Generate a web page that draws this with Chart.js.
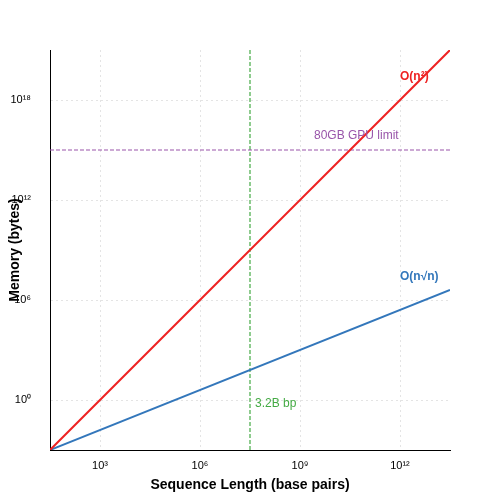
<!DOCTYPE html>
<html><head><script src="https://cdn.jsdelivr.net/npm/chart.js@4"></script>
<style>body{margin:0;background:#fff}#w{width:500px;height:500px}</style></head>
<body><div id="w"><canvas id="c"></canvas></div>
<script>
const xTicks=[1e3,1e6,1e9,1e12];
const xTickLabels=["10³","10⁶","10⁹","10¹²"];
const yTicks=[1,1e6,1e12,1e18];
const yTickLabels=["10⁰","10⁶","10¹²","10¹⁸"];
const nRange=[Math.pow(10,1.5),Math.pow(10,13.5)];
const quadMem=[1e-3,1e21];
const nsqrtMem=[1e-3,Math.pow(10,6.6)];
const gpuLimit=1e15;
const genomeLen=Math.pow(10,7.5);
const yRange=[1e-3,1e21];
const font="'Liberation Sans', Arial, sans-serif";
const labelPlugin={id:'lab',afterDraw(c){const ctx=c.ctx,x=c.scales.x,y=c.scales.y;ctx.save();
 ctx.textBaseline='middle';
 ctx.font="bold 12px "+font;ctx.fillStyle='#ee2222';ctx.fillText('O(n²)',x.getPixelForValue(1e12),y.getPixelForValue(Math.pow(10,19.4)));
 ctx.fillStyle='#3377bb';ctx.fillText('O(n√n)',x.getPixelForValue(1e12),y.getPixelForValue(Math.pow(10,7.4)));
 ctx.font="12px "+font;ctx.fillStyle='#9955aa';ctx.fillText('80GB GPU limit',x.getPixelForValue(Math.pow(10,9.42)),y.getPixelForValue(Math.pow(10,15.85)));
 ctx.fillStyle='#44aa44';ctx.fillText('3.2B bp',x.getPixelForValue(Math.pow(10,7.65)),y.getPixelForValue(Math.pow(10,-0.2)));
 ctx.fillStyle='#000';ctx.font="bold 14px "+font;ctx.textAlign='center';
 ctx.fillText('Sequence Length (base pairs)',250,485);
 ctx.translate(15,250);ctx.rotate(-Math.PI/2);ctx.fillText('Memory (bytes)',0,0);
 ctx.restore();}};
const grid={color:'#e4e4e4',lineWidth:1,drawTicks:false};
new Chart(document.getElementById('c'),{type:'scatter',
 data:{datasets:[
  {data:[{x:nRange[0],y:quadMem[0]},{x:nRange[1],y:quadMem[1]}],showLine:true,borderColor:'#ee2222',borderWidth:2,pointRadius:0},
  {data:[{x:nRange[0],y:nsqrtMem[0]},{x:nRange[1],y:nsqrtMem[1]}],showLine:true,borderColor:'#3377bb',borderWidth:2,pointRadius:0},
  {data:[{x:nRange[0],y:gpuLimit},{x:nRange[1],y:gpuLimit}],showLine:true,borderColor:'#9955aa',borderWidth:1.2,borderDash:[4,2],pointRadius:0},
  {data:[{x:genomeLen,y:yRange[0]},{x:genomeLen,y:yRange[1]}],showLine:true,borderColor:'#44aa44',borderWidth:1.2,borderDash:[4,2],pointRadius:0}
 ]},
 options:{responsive:true,maintainAspectRatio:false,animation:false,
  layout:{padding:{left:0,top:50,right:50,bottom:0}},
  plugins:{legend:{display:false},tooltip:{enabled:false}},
  scales:{
   x:{type:'logarithmic',min:nRange[0],max:nRange[1],
    afterBuildTicks(s){s.ticks=xTicks.map(v=>({value:v}));},
    afterFit(s){s.height=50;},
    ticks:{padding:9,autoSkip:false,maxRotation:0,color:'#000',font:{family:font,size:11},callback:(v)=>xTickLabels[xTicks.indexOf(v)]},
    grid:grid,border:{color:'#000',width:1,dash:[2,3]}},
   y:{type:'logarithmic',min:yRange[0],max:yRange[1],
    afterBuildTicks(s){s.ticks=yTicks.map(v=>({value:v}));},
    afterFit(s){s.width=50;},
    ticks:{padding:19,autoSkip:false,color:'#000',font:{family:font,size:11},callback:(v)=>yTickLabels[yTicks.indexOf(v)]},
    grid:grid,border:{color:'#000',width:1,dash:[2,3]}}
  }},
 plugins:[labelPlugin]});
</script></body></html>
